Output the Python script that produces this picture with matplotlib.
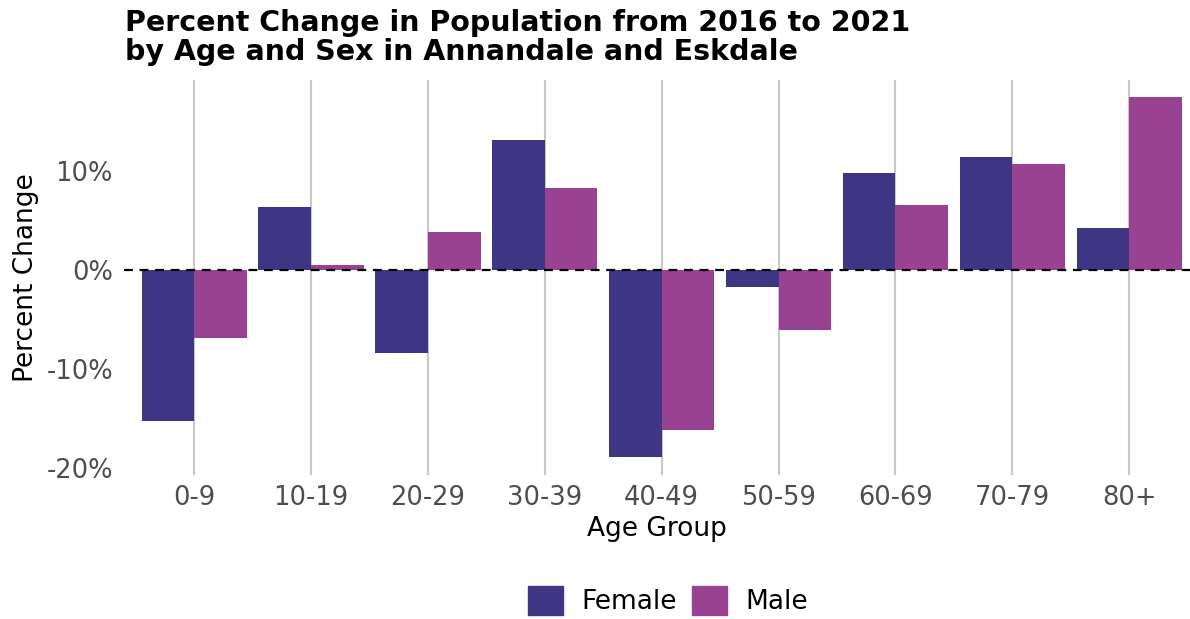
import matplotlib
matplotlib.use("Agg")
import matplotlib.pyplot as plt
import numpy as np
from matplotlib.patches import Patch
from matplotlib.ticker import FuncFormatter

age_groups = ["0-9", "10-19", "20-29", "30-39", "40-49", "50-59", "60-69", "70-79", "80+"]
female = [-15.2, 6.4, -8.4, 13.1, -18.9, -1.7, 9.8, 11.4, 4.2]
male = [-6.9, 0.5, 3.8, 8.3, -16.2, -6.1, 6.6, 10.7, 17.5]
yticks = [-20, -10, 0, 10]

female_color = "#3f3585"
male_color = "#984291"

fig = plt.figure(figsize=(11.9, 6.19), dpi=100)
ax = fig.add_axes([124/1190, 1-475/619, (1190-124)/1190, (475-80)/619])

x = np.arange(len(age_groups))
w = 0.45
ax.bar(x - w/2, female, width=w, color=female_color, zorder=2)
ax.bar(x + w/2, male, width=w, color=male_color, zorder=2)
ax.axhline(0, color="black", linestyle=(0, (4, 3)), linewidth=1.6, zorder=3)

ax.set_xlim(-0.6, 8.52)
ax.set_ylim(-20.7, 19.2)
ax.set_xticks(x)
ax.set_xticklabels(age_groups)
ax.set_yticks(yticks)
ax.yaxis.set_major_formatter(FuncFormatter(lambda v, p: f"{v:.0f}%"))
ax.grid(axis="x", color="#c8c8c8", linewidth=1.5, zorder=0)
ax.grid(axis="y", visible=False)
for s in ax.spines.values():
    s.set_visible(False)
ax.tick_params(axis="both", length=0, labelsize=18.5, labelcolor="#4d4d4d")
ax.tick_params(axis="x", pad=7)
ax.tick_params(axis="y", pad=8)
ax.set_xlabel("Age Group", fontsize=19, labelpad=4)
ax.set_ylabel("Percent Change", fontsize=19, labelpad=5)

fig.text(125/1190, 1-9/619, "Percent Change in Population from 2016 to 2021\nby Age and Sex in Annandale and Eskdale",
         fontsize=20.5, fontweight="bold", va="top", ha="left", linespacing=1.05)

handles = [Patch(color=female_color, label="Female"), Patch(color=male_color, label="Male")]
fig.legend(handles=handles, loc="lower center", bbox_to_anchor=(668/1190, -0.032), ncol=2,
           frameon=False, fontsize=19, handlelength=1.3, handleheight=1.3, columnspacing=0.6, handletextpad=0.7)

fig.savefig("out.png", dpi=100)
